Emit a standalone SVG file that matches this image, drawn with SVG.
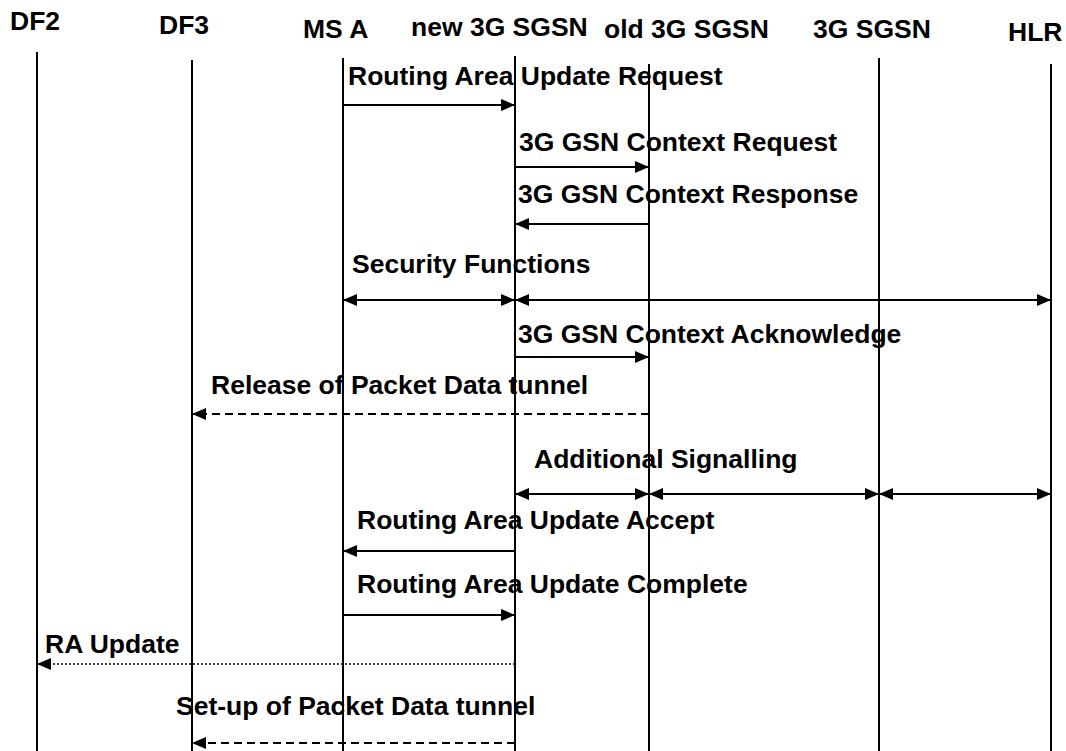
<svg xmlns="http://www.w3.org/2000/svg" width="1066" height="751" viewBox="0 0 1066 751">
<style>
text{font-family:"Liberation Sans",Arial,sans-serif;font-weight:bold;font-size:26.5px;fill:#000}
.life{stroke:#000;stroke-width:2;fill:none}
.msg{stroke:#000;stroke-width:2;fill:none}
.dash{stroke-dasharray:8,5}
.dot{stroke-width:1.5;stroke-dasharray:2,2}
</style>
<defs>
<marker id="ah" viewBox="0 0 14 12" refX="14" refY="6" markerWidth="14" markerHeight="12" markerUnits="userSpaceOnUse" orient="auto-start-reverse">
<path d="M0,0 L14,6 L0,12 Z" fill="#000"/>
</marker>
</defs>
<rect width="1066" height="751" fill="#fff"/>
<g id="DF2"><text x="10" y="30">DF2</text><line class="life" x1="37" y1="52" x2="37" y2="751"/></g>
<g id="DF3"><text x="159" y="34">DF3</text><line class="life" x1="192" y1="60" x2="192" y2="751"/></g>
<g id="MSA"><text x="303" y="38">MS A</text><line class="life" x1="343" y1="58" x2="343" y2="751"/></g>
<g id="newSGSN"><text x="411" y="36">new 3G SGSN</text><line class="life" x1="515" y1="56" x2="515" y2="751"/></g>
<g id="oldSGSN"><text x="604" y="38">old 3G SGSN</text><line class="life" x1="649" y1="64" x2="649" y2="751"/></g>
<g id="SGSN3G"><text x="813" y="38">3G SGSN</text><line class="life" x1="879" y1="58" x2="879" y2="751"/></g>
<g id="HLR"><text x="1008" y="41">HLR</text><line class="life" x1="1051" y1="64" x2="1051" y2="751"/></g>
<g id="connectors">
<text x="348" y="85">Routing Area Update Request</text>
<line class="msg" x1="343" y1="105" x2="515" y2="105" marker-end="url(#ah)"/>
<text x="519" y="151">3G GSN Context Request</text>
<line class="msg" x1="515" y1="167" x2="649" y2="167" marker-end="url(#ah)"/>
<text x="518" y="203">3G GSN Context Response</text>
<line class="msg" x1="649" y1="224" x2="515" y2="224" marker-end="url(#ah)"/>
<text x="352" y="273">Security Functions</text>
<line class="msg" x1="343" y1="300" x2="515" y2="300" marker-start="url(#ah)" marker-end="url(#ah)"/>
<line class="msg" x1="515" y1="300" x2="1051" y2="300" marker-start="url(#ah)" marker-end="url(#ah)"/>
<text x="518" y="343">3G GSN Context Acknowledge</text>
<line class="msg" x1="515" y1="357" x2="649" y2="357" marker-end="url(#ah)"/>
<text x="211" y="394">Release of Packet Data tunnel</text>
<line class="msg dash" x1="649" y1="414" x2="192" y2="414" marker-end="url(#ah)"/>
<text x="534" y="468">Additional Signalling</text>
<line class="msg" x1="515" y1="494" x2="649" y2="494" marker-start="url(#ah)" marker-end="url(#ah)"/>
<line class="msg" x1="649" y1="494" x2="879" y2="494" marker-start="url(#ah)" marker-end="url(#ah)"/>
<line class="msg" x1="879" y1="494" x2="1051" y2="494" marker-start="url(#ah)" marker-end="url(#ah)"/>
<text x="357" y="529">Routing Area Update Accept</text>
<line class="msg" x1="515" y1="551" x2="343" y2="551" marker-end="url(#ah)"/>
<text x="357" y="593">Routing Area Update Complete</text>
<line class="msg" x1="343" y1="615" x2="515" y2="615" marker-end="url(#ah)"/>
<text x="45" y="653">RA Update</text>
<line class="msg dot" x1="515" y1="664" x2="37" y2="664" marker-end="url(#ah)"/>
<text x="176" y="715">Set-up of Packet Data tunnel</text>
<line class="msg dash" x1="515" y1="743" x2="192" y2="743" marker-end="url(#ah)"/>
</g>
</svg>
